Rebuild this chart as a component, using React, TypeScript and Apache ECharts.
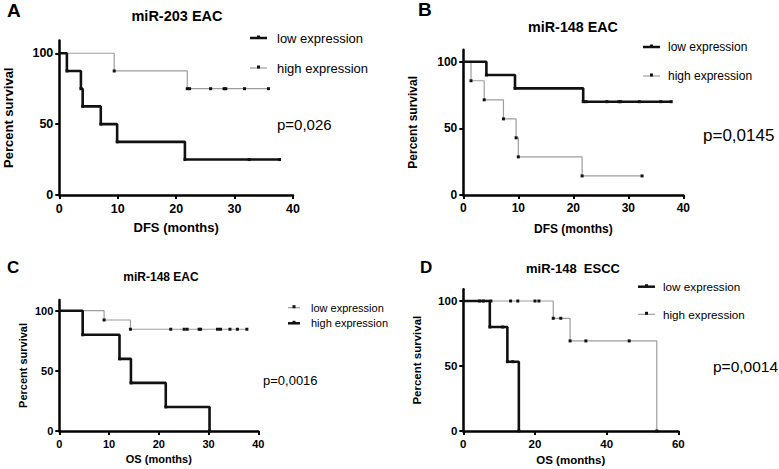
import React, { useEffect, useRef } from "react";
import * as echarts from "echarts";

const FONT = "'Liberation Sans', Arial, Helvetica, sans-serif";
const DARK = "#111111";
const GRAY = "#9d9d9d";

// ---------- Data ----------
// Panel A: miR-203 EAC, DFS
const aLowMonths = [0, 1.3, 3.7, 4.0, 7.1, 9.9, 21.5, 32.5, 37.7];
const aLowSurvival = [100, 87.5, 75, 62.5, 50, 37.5, 25, 25, 25];
const aHighMonths = [0, 9.4, 21.9, 22.3, 25.9, 28.2, 28.5, 31.7, 35.8];
const aHighSurvival = [100, 87.5, 75, 75, 75, 75, 75, 75, 75];

// Panel B: miR-148 EAC, DFS
const bLowMonths = [0, 4.2, 9.4, 21.8, 22.3, 26.1, 28.3, 28.6, 32.0, 35.9, 37.8];
const bLowSurvival = [100, 90, 80, 70, 70, 70, 70, 70, 70, 70, 70];
const bHighMonths = [0, 1.4, 3.8, 7.3, 9.6, 10.0, 21.6, 32.5];
const bHighSurvival = [100, 85.7, 71.4, 57.1, 42.9, 28.6, 14.3, 14.3];

// Panel C: miR-148 EAC, OS
const cLowMonths = [0, 9.0, 14.3, 22.4, 25.1, 25.7, 28.1, 28.4, 31.8, 32.4, 34.3, 35.8, 37.7];
const cLowSurvival = [100, 92.3, 84.6, 84.6, 84.6, 84.6, 84.6, 84.6, 84.6, 84.6, 84.6, 84.6, 84.6];
const cHighMonths = [0, 4.7, 12.1, 14.4, 21.4, 30.2];
const cHighSurvival = [100, 80, 60, 40, 20, 0];

// Panel D: miR-148 ESCC, OS
const dLowMonths = [0, 7.4, 11.0, 12.3, 13.8, 15.5];
const dLowSurvival = [100, 80, 80, 53.3, 53.3, 0];
const dHighMonths = [0, 4.5, 5.6, 7.7, 13.2, 15.2, 20.0, 21.1, 25.1, 27.2, 29.8, 34.2, 46.3, 54.0];
const dHighSurvival = [100, 100, 100, 100, 100, 100, 100, 100, 86.7, 86.7, 69.3, 69.3, 69.3, 0];

const yTickValues = [0, 50, 100];
const legendNames = ["low expression", "high expression"];
const panelLetters = ["A", "B", "C", "D"];
const panelTitles = ["miR-203 EAC", "miR-148 EAC", "miR-148 EAC", "miR-148  ESCC"];
const xAxisTitles = ["DFS (months)", "DFS (months)", "OS (months)", "OS (months)"];
const yAxisTitle = "Percent survival";
const pValues = ["p=0,026", "p=0,0145", "p=0,0016", "p=0,0014"];
const xMaxes = [40, 40, 40, 60];
const xIntervals = [10, 10, 10, 20];

// ---------- Layout (positions / sizes / styles) ----------
type Layout = {
  grid: { left: number; top: number; width: number; height: number };
  tickFont: number;
  nameFont: number;
  xNameGap: number;
  yNameGap: number;
  letter: { x: number; y: number; size: number };
  title: { x: number; y: number; size: number };
  legend: { x1: number; x2: number; tx: number; yLow: number; yHigh: number; size: number };
  p: { x: number; y: number; size: number };
  lowDark: boolean;
};

const layouts: Layout[] = [
  {
    grid: { left: 59.3, top: 40.5, width: 233.7, height: 154.5 },
    tickFont: 12.5, nameFont: 13, xNameGap: 26, yNameGap: 44,
    letter: { x: 7, y: 10, size: 19 },
    title: { x: 177, y: 16, size: 14.5 },
    legend: { x1: 250, x2: 267, tx: 277, yLow: 38, yHigh: 68, size: 13 },
    p: { x: 277, y: 124, size: 15 },
    lowDark: true,
  },
  {
    grid: { left: 463.3, top: 49.7, width: 220, height: 145.3 },
    tickFont: 12, nameFont: 12, xNameGap: 28, yNameGap: 44,
    letter: { x: 418, y: 9, size: 19 },
    title: { x: 573, y: 27, size: 14.3 },
    legend: { x1: 643, x2: 660, tx: 668, yLow: 47, yHigh: 76, size: 12 },
    p: { x: 703, y: 135, size: 17 },
    lowDark: true,
  },
  {
    grid: { left: 59.3, top: 299.9, width: 199, height: 131.1 },
    tickFont: 11, nameFont: 11, xNameGap: 22, yNameGap: 31,
    letter: { x: 7, y: 267, size: 17 },
    title: { x: 161, y: 277, size: 12 },
    legend: { x1: 288, x2: 300, tx: 311, yLow: 307.7, yHigh: 323.3, size: 11 },
    p: { x: 263, y: 380, size: 13 },
    lowDark: false,
  },
  {
    grid: { left: 463.3, top: 289.3, width: 215, height: 141.7 },
    tickFont: 11.5, nameFont: 11.5, xNameGap: 23, yNameGap: 40,
    letter: { x: 420, y: 267, size: 17 },
    title: { x: 573, y: 268, size: 13 },
    legend: { x1: 638, x2: 655, tx: 663, yLow: 286.7, yHigh: 314.3, size: 11.7 },
    p: { x: 713, y: 366.7, size: 15.5 },
    lowDark: true,
  },
];

const panelData = [
  { low: [aLowMonths, aLowSurvival], high: [aHighMonths, aHighSurvival] },
  { low: [bLowMonths, bLowSurvival], high: [bHighMonths, bHighSurvival] },
  { low: [cLowMonths, cLowSurvival], high: [cHighMonths, cHighSurvival] },
  { low: [dLowMonths, dLowSurvival], high: [dHighMonths, dHighSurvival] },
];

function toPoints(t: number[], s: number[]) {
  return t.map((x, i) =>
    i === 0 ? { value: [x, s[i]], symbol: "none" } : { value: [x, s[i]] }
  );
}

function buildOption() {
  const grids: any[] = [];
  const xAxes: any[] = [];
  const yAxes: any[] = [];
  const series: any[] = [];
  const graphics: any[] = [];

  layouts.forEach((L, i) => {
    grids.push({ ...L.grid, containLabel: false, outerBoundsMode: "none" });
    const axisLine = { show: true, onZero: false, lineStyle: { color: "#000", width: 2.5 } };
    xAxes.push({
      type: "value",
      gridIndex: i,
      min: 0,
      max: xMaxes[i],
      interval: xIntervals[i],
      axisLine,
      axisTick: { show: true, length: 4, lineStyle: { color: "#000", width: 2 } },
      axisLabel: { margin: 7, color: "#000", fontFamily: FONT, fontWeight: "bold", fontSize: L.tickFont },
      splitLine: { show: false },
      name: xAxisTitles[i],
      nameLocation: "middle",
      nameGap: L.xNameGap,
      nameTextStyle: { color: "#000", fontFamily: FONT, fontWeight: "bold", fontSize: L.nameFont },
    });
    yAxes.push({
      type: "value",
      gridIndex: i,
      min: 0,
      max: 109,
      axisLine,
      axisTick: { show: true, length: 4, customValues: yTickValues, lineStyle: { color: "#000", width: 2 } },
      axisLabel: {
        margin: 6,
        customValues: yTickValues,
        color: "#000",
        fontFamily: FONT,
        fontWeight: "bold",
        fontSize: L.tickFont,
      },
      splitLine: { show: false },
      name: yAxisTitle,
      nameLocation: "middle",
      nameGap: L.yNameGap,
      nameTextStyle: { color: "#000", fontFamily: FONT, fontWeight: "bold", fontSize: L.nameFont },
    });

    const d = panelData[i];
    const lowStyle = L.lowDark;
    const mk = (name: string, pts: number[][], dark: boolean) => ({
      type: "line",
      name,
      xAxisIndex: i,
      yAxisIndex: i,
      step: "end",
      data: toPoints(pts[0], pts[1]),
      symbol: "rect",
      symbolSize: 3,
      showSymbol: true,
      z: dark ? 3 : 2,
      lineStyle: { color: dark ? DARK : GRAY, width: dark ? 2.6 : 1.2 },
      itemStyle: { color: DARK },
      emphasis: { disabled: true },
    });
    const lowS = mk(legendNames[0], d.low, lowStyle);
    const highS = mk(legendNames[1], d.high, !lowStyle);
    if (lowStyle) series.push(highS, lowS);
    else series.push(lowS, highS);

    graphics.push({
      type: "text",
      x: L.letter.x,
      y: L.letter.y,
      style: {
        text: panelLetters[i],
        font: `bold ${L.letter.size}px ${FONT}`,
        fill: "#000",
        textAlign: "left",
        textVerticalAlign: "middle",
      },
    });
    graphics.push({
      type: "text",
      x: L.title.x,
      y: L.title.y,
      style: {
        text: panelTitles[i],
        font: `bold ${L.title.size}px ${FONT}`,
        fill: "#000",
        textAlign: "center",
        textVerticalAlign: "middle",
      },
    });
    const lg = L.legend;
    const legendRows = [
      { y: lg.yLow, dark: lowStyle, text: legendNames[0] },
      { y: lg.yHigh, dark: !lowStyle, text: legendNames[1] },
    ];
    legendRows.forEach((r) => {
      graphics.push({
        type: "line",
        shape: { x1: lg.x1, y1: r.y, x2: lg.x2, y2: r.y },
        style: { stroke: r.dark ? DARK : GRAY, lineWidth: r.dark ? 2.5 : 1.2 },
      });
      graphics.push({
        type: "rect",
        shape: { x: (lg.x1 + lg.x2) / 2 - 1.5, y: r.y - 2.5, width: 3, height: 3 },
        style: { fill: DARK },
      });
      graphics.push({
        type: "text",
        x: lg.tx,
        y: r.y,
        style: {
          text: r.text,
          font: `${lg.size}px ${FONT}`,
          fill: "#000",
          textAlign: "left",
          textVerticalAlign: "middle",
        },
      });
    });
    graphics.push({
      type: "text",
      x: L.p.x,
      y: L.p.y,
      style: {
        text: pValues[i],
        font: `${L.p.size}px ${FONT}`,
        fill: "#000",
        textAlign: "left",
        textVerticalAlign: "middle",
      },
    });
  });

  return {
    animation: false,
    backgroundColor: "#ffffff",
    grid: grids,
    xAxis: xAxes,
    yAxis: yAxes,
    series,
    graphic: graphics,
    tooltip: { show: false },
  };
}

export default function App() {
  const ref = useRef<HTMLDivElement>(null);
  useEffect(() => {
    document.body.style.margin = "0";
    if (!ref.current) return;
    const chart = echarts.init(ref.current, undefined, { renderer: "svg" });
    chart.setOption(buildOption() as any);
    return () => chart.dispose();
  }, []);
  return <div ref={ref} style={{ width: 779, height: 469, background: "#fff" }} />;
}
